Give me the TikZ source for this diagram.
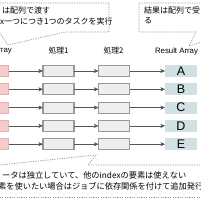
\documentclass[tikz,border=0pt]{standalone}
\usepackage{fontspec}
\setmainfont{Liberation Sans}
\newfontfamily\jp{Noto Sans CJK JP}
\usetikzlibrary{arrows.meta}
\definecolor{pinkf}{HTML}{F4CCCC}
\definecolor{pinkd}{HTML}{E6B0B0}
\definecolor{grayf}{HTML}{EEEEEE}
\definecolor{grayd}{HTML}{999999}
\definecolor{tealf}{HTML}{D0E0E3}
\definecolor{arrc}{HTML}{555555}
\definecolor{dotc}{HTML}{999999}
\begin{document}
\begin{tikzpicture}[x=1pt,y=-1pt,
 box/.style={minimum width=31pt,minimum height=11pt,inner sep=0pt,outer sep=0pt},
 pinkbox/.style={box,draw=pinkd,fill=pinkf,line width=0.6pt},
 graybox/.style={box,draw=grayd,fill=grayf,line width=1.1pt},
 resbox/.style={box,fill=tealf,minimum width=32pt,minimum height=12pt,font=\fontsize{12.5}{13}\selectfont},
 arr/.style={draw=arrc,line width=0.6pt,-{Stealth[length=4.5pt,width=4pt,inset=1pt]}},
 callout/.style={draw=dotc,line width=0.7pt,dash pattern=on 1.2pt off 1.2pt},
 lbl/.style={inner sep=0pt,font=\fontsize{7.8}{9}\selectfont},
 jlbl/.style={inner sep=0pt,font=\jp\fontsize{7.8}{9}\selectfont},
 jtxt/.style={inner sep=0pt,anchor=west,font=\jp\fontsize{8}{9}\selectfont},
 btxt/.style={inner sep=0pt,anchor=west,font=\jp\fontsize{8.2}{9}\selectfont}]
\useasboundingbox (0,0) rectangle (200,200);
\fill[white] (0,0) rectangle (200,200);
% callouts
\draw[callout] (-5,3) -- (109,3) -- (109,32) -- (65,32) -- (8,45) -- (-1,32) -- (-5,32);
\draw[callout] (205,3) -- (139,3) -- (139,32) -- (196,32) -- (189,46) -- (230,32);
\draw[callout] (-10,166) -- (96,155) -- (88,165) -- (205,165);
\draw[callout] (-5,197) -- (205,197);
% callout texts
\node[jtxt] (t1) at (2,10) {は配列で渡す};
\node[jtxt] (t2) at (0,21) {x一つにつき1つのタスクを実行};
\node[jtxt] (t3) at (144,10) {結果は配列で受};
\node[jtxt] (t4) at (144,21) {る};
\node[btxt] (b1) at (2,175) {ータは独立していて、他のindexの要素は使えない};
\node[btxt] (b2) at (-2,186) {素を使いたい場合はジョブに依存関係を付けて追加発行};
% column labels
\node[lbl,anchor=east] (la) at (12,51) {Array};
\node[jlbl] (lb) at (58.5,51) {処理1};
\node[jlbl] (lc) at (113.5,51) {処理2};
\node[lbl] (ld) at (176.5,51) {Result Array};
% rows
\foreach \i/\L in {0/A,1/B,2/C,3/D,4/E}{
  \pgfmathsetmacro\yy{71+18.3*\i}
  \node[pinkbox] (p\i) at (-7,\yy) {};
  \node[graybox] (g\i) at (58.5,\yy) {};
  \node[graybox] (h\i) at (114,\yy) {};
  \node[resbox] (r\i) at (181,\yy) {\L};
  \draw[arr] (p\i) -- (g\i);
  \draw[arr] (g\i) -- (h\i);
  \draw[arr] (h\i) -- (r\i);
}
\end{tikzpicture}
\end{document}
